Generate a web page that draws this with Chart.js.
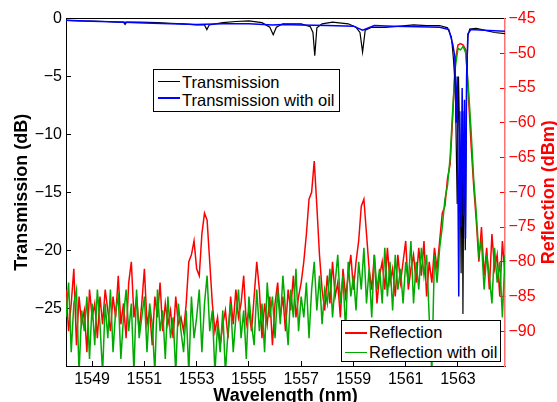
<!DOCTYPE html>
<html>
<head>
<meta charset="utf-8">
<script src="https://cdn.jsdelivr.net/npm/chart.js@4"></script>
<style>
  body { margin: 0; background: #fff; }
  #wrap { position: relative; width: 557px; height: 402px; overflow: hidden; }
  .legend { position: absolute; box-sizing: border-box; border: 1px solid #000; background: #fff;
            font: 16.5px "Liberation Sans", Arial, sans-serif; color: #000; }
  .legend .ln { position: absolute; width: 22px; }
  .legend .tx { position: absolute; line-height: 18px; white-space: nowrap; }
</style>
</head>
<body>
<div id="wrap">
  <canvas id="chart" width="557" height="402"></canvas>
  <div class="legend" style="left:153px;top:69px;width:187px;height:43px">
    <div class="ln" style="left:4px;top:10.5px;height:1px;background:#000"></div>
    <div class="tx" style="left:28px;top:2.5px">Transmission</div>
    <div class="ln" style="left:4px;top:27px;height:2px;background:#0000ff"></div>
    <div class="tx" style="left:28px;top:21px">Transmission with oil</div>
  </div>
  <div class="legend" style="left:341px;top:320px;width:160px;height:42px">
    <div class="ln" style="left:3px;top:11px;height:1.5px;background:#ff0000"></div>
    <div class="tx" style="left:27px;top:2.2px">Reflection</div>
    <div class="ln" style="left:3px;top:30.5px;height:1.5px;background:#00aa00"></div>
    <div class="tx" style="left:27px;top:22.2px">Reflection with oil</div>
  </div>
</div>
<script>
// tick labels
const wavelengthTicks = [1549, 1551, 1553, 1555, 1557, 1559, 1561, 1563];
const transTicks = [-25, -20, -15, -10, -5, 0];
const reflTicks = [-90, -85, -80, -75, -70, -65, -60, -55, -50, -45];

// transmission (dB)
const transWl = [1548.0, 1548.5, 1549.0, 1549.5, 1550.0, 1550.2, 1550.26, 1550.32, 1550.8, 1551.5,
  1552.0, 1552.5, 1553.0, 1553.3, 1553.39, 1553.48, 1554.0, 1554.5, 1555.0, 1555.5,
  1555.8, 1555.93, 1556.05, 1556.3, 1557.0, 1557.35, 1557.45, 1557.52, 1557.6, 1557.8,
  1558.2, 1558.8, 1559.1, 1559.25, 1559.35, 1559.45, 1559.7, 1560.2, 1560.8, 1561.3,
  1561.8, 1562.3, 1562.6, 1562.75, 1562.82, 1562.9, 1562.97, 1563.02, 1563.08, 1563.12,
  1563.16, 1563.19, 1563.23, 1563.28, 1563.33, 1563.38, 1563.45, 1563.7, 1564.0, 1564.4, 1564.8];
const transDb = [-0.15, -0.2, -0.22, -0.25, -0.3, -0.3, -0.5, -0.3, -0.3, -0.35,
  -0.4, -0.45, -0.55, -0.55, -0.95, -0.55, -0.35, -0.25, -0.2, -0.35,
  -0.75, -1.4, -0.75, -0.45, -0.45, -0.7, -1.2, -3.2, -0.8, -0.45,
  -0.3, -0.45, -0.75, -1.2, -2.9, -1.0, -0.75, -0.75, -0.65, -0.55,
  -0.6, -0.6, -0.8, -1.6, -3.3, -6, -16, -5, -12, -22,
  -8, -25.5, -10, -20, -6, -1.5, -0.9, -0.85, -1.0, -1.2, -1.3];

const oilWl = [1548.0, 1549.0, 1550.0, 1551.0, 1552.0, 1553.0, 1554.0, 1555.0, 1555.9, 1556.3,
  1557.0, 1558.0, 1559.0, 1559.35, 1559.8, 1560.5, 1561.5, 1562.3, 1562.65, 1562.8,
  1562.88, 1562.93, 1562.97, 1563.03, 1563.07, 1563.12, 1563.16, 1563.21, 1563.25, 1563.29,
  1563.33, 1563.38, 1563.5, 1564.0, 1564.8];
const oilDb = [-0.15, -0.22, -0.3, -0.38, -0.45, -0.5, -0.45, -0.45, -0.55, -0.5,
  -0.55, -0.6, -0.65, -1.0, -0.6, -0.65, -0.7, -0.75, -0.95, -2.2,
  -3.3, -9, -5, -24, -8, -18, -6, -17, -7, -19,
  -5, -1.3, -0.95, -1.0, -1.1];

// reflection (dBm), one reading every 0.1 nm
const reflWl = [
  1548.0, 1548.1, 1548.2, 1548.3, 1548.4, 1548.5, 1548.6, 1548.7, 1548.8, 1548.9,
  1549.0, 1549.1, 1549.2, 1549.3, 1549.4, 1549.5, 1549.6, 1549.7, 1549.8, 1549.9,
  1550.0, 1550.1, 1550.2, 1550.3, 1550.4, 1550.5, 1550.6, 1550.7, 1550.8, 1550.9,
  1551.0, 1551.1, 1551.2, 1551.3, 1551.4, 1551.5, 1551.6, 1551.7, 1551.8, 1551.9,
  1552.0, 1552.1, 1552.2, 1552.3, 1552.4, 1552.5, 1552.6, 1552.7, 1552.8, 1552.9,
  1553.0, 1553.1, 1553.2, 1553.3, 1553.4, 1553.5, 1553.6, 1553.7, 1553.8, 1553.9,
  1554.0, 1554.1, 1554.2, 1554.3, 1554.4, 1554.5, 1554.6, 1554.7, 1554.8, 1554.9,
  1555.0, 1555.1, 1555.2, 1555.3, 1555.4, 1555.5, 1555.6, 1555.7, 1555.8, 1555.9,
  1556.0, 1556.1, 1556.2, 1556.3, 1556.4, 1556.5, 1556.6, 1556.7, 1556.8, 1556.9,
  1557.0, 1557.1, 1557.2, 1557.3, 1557.4, 1557.5, 1557.6, 1557.7, 1557.8, 1557.9,
  1558.0, 1558.1, 1558.2, 1558.3, 1558.4, 1558.5, 1558.6, 1558.7, 1558.8, 1558.9,
  1559.0, 1559.1, 1559.2, 1559.3, 1559.4, 1559.5, 1559.6, 1559.7, 1559.8, 1559.9,
  1560.0, 1560.1, 1560.2, 1560.3, 1560.4, 1560.5, 1560.6, 1560.7, 1560.8, 1560.9,
  1561.0, 1561.1, 1561.2, 1561.3, 1561.4, 1561.5, 1561.6, 1561.7, 1561.8, 1561.9,
  1562.0, 1562.1, 1562.2, 1562.3, 1562.4, 1562.5, 1562.6, 1562.7, 1562.8, 1562.9,
  1563.0, 1563.1, 1563.2, 1563.3, 1563.4, 1563.5, 1563.6, 1563.7, 1563.8, 1563.9,
  1564.0, 1564.1, 1564.2, 1564.3, 1564.4, 1564.5, 1564.6, 1564.7, 1564.8];
const reflDbm = [
  -84, -90, -86, -81, -92, -85, -89, -87, -93, -84,
  -88, -86, -91, -85, -89, -84, -87, -90, -85, -88,
  -82, -89, -86, -91, -83, -80, -88, -85, -90, -86,
  -81, -89, -87, -92, -85, -88, -83, -90, -86, -89,
  -87, -91, -85, -89, -88, -90, -86, -80, -79, -77,
  -81, -82, -76, -73, -74, -80, -86, -90, -88, -92,
  -89, -87, -91, -85, -89, -84, -88, -86, -82, -89,
  -87, -90, -85, -80, -84, -91, -86, -89, -85, -92,
  -86, -83, -88, -85, -90, -84, -87, -82, -88, -85,
  -83, -80, -76, -71, -70, -65.5, -72, -79, -84, -87,
  -82, -86, -80, -85, -83, -88, -81, -85, -82, -79,
  -84, -80, -77, -72, -71, -76, -81, -84, -79, -86,
  -82, -80, -84, -78, -83, -81, -85, -79, -83, -80,
  -77, -84, -81, -79, -83, -78, -82, -77, -85, -80,
  -83, -78, -81, -77, -73, -72, -68, -66, -59, -51,
  -48.8, -48.6, -48.8, -49.5, -56, -63, -69, -74, -80, -75,
  -82, -78, -84, -76, -81, -79, -85, -77, -82];
const oilReflDbm = [
  -88, -83, -93, -86, -84, -96, -87, -90, -85, -94,
  -86, -92, -84, -89, -96, -86, -91, -84, -93, -87,
  -85, -94, -88, -84, -90, -86, -96, -84, -91, -88,
  -85, -93, -86, -89, -96, -84, -90, -87, -94, -85,
  -91, -88, -96, -86, -90, -93, -87, -96, -85, -91,
  -88, -84, -93, -86, -82, -90, -87, -96, -89, -93,
  -87, -96, -90, -86, -93, -88, -84, -91, -87, -94,
  -85, -89, -92, -84, -90, -86, -93, -83, -88, -85,
  -91, -84, -89, -82, -87, -92, -84, -88, -81, -90,
  -85, -88, -83, -91, -84, -80, -87, -82, -89, -84,
  -86, -81, -88, -83, -79, -86, -82, -90, -80, -85,
  -82, -87, -80, -84, -78, -86, -81, -88, -79, -84,
  -81, -86, -78, -85, -80, -87, -79, -84, -81, -86,
  -80, -83, -77, -86, -80, -84, -78, -82, -79, -88,
  -96, -79, -83, -78, -75, -71, -69, -65, -58, -52,
  -49.3, -49.5, -49, -50, -55, -61, -68, -73, -79, -77,
  -84, -79, -82, -86, -78, -83, -80, -88, -79];

const FONT = '"Liberation Sans", Arial, sans-serif';
Chart.defaults.font.family = FONT;

function pairs(xs, ys) {
  return xs.map((x, i) => ({ x: x, y: ys[i] }));
}

function minusLabel(v) {
  return v < 0 ? '\u2212' + Math.abs(v) : String(v);
}

const rightTitle = {
  id: 'rightTitle',
  afterDraw(chart) {
    const ctx = chart.ctx;
    const area = chart.chartArea;
    ctx.save();
    ctx.translate(chart.scales.y2.right - 8, (area.top + area.bottom) / 2);
    ctx.rotate(-Math.PI / 2);
    ctx.font = 'bold 18px ' + FONT;
    ctx.fillStyle = '#ff0000';
    ctx.textAlign = 'center';
    ctx.textBaseline = 'middle';
    ctx.fillText('Reflection (dBm)', 0, 0);
    ctx.restore();
  }
};

new Chart(document.getElementById('chart'), {
  type: 'line',
  data: {
    datasets: [
      { label: 'Transmission with oil', data: pairs(oilWl, oilDb), yAxisID: 'y', order: 0,
        borderColor: '#0000ff', borderWidth: 1.5 },
      { label: 'Transmission', data: pairs(transWl, transDb), yAxisID: 'y', order: 1,
        borderColor: '#000000', borderWidth: 1.2 },
      { label: 'Reflection with oil', data: pairs(reflWl, oilReflDbm), yAxisID: 'y2', order: 2,
        borderColor: '#00aa00', borderWidth: 1.5 },
      { label: 'Reflection', data: pairs(reflWl, reflDbm), yAxisID: 'y2', order: 3,
        borderColor: '#ff0000', borderWidth: 1.5 }
    ]
  },
  options: {
    responsive: false,
    animation: false,
    devicePixelRatio: 1,
    layout: { padding: 0 },
    elements: { point: { radius: 0 }, line: { tension: 0 } },
    plugins: { legend: { display: false }, tooltip: { enabled: false } },
    scales: {
      x: {
        type: 'linear', position: 'bottom', min: 1548, max: 1564.8,
        afterBuildTicks: s => { s.ticks = wavelengthTicks.map(v => ({ value: v })); },
        afterFit: s => { s.height = 36; },
        ticks: { color: '#000', font: { size: 16 }, padding: 9, maxRotation: 0, autoSkip: false,
                 callback: v => String(v) },
        grid: { drawOnChartArea: false, tickLength: -5, color: '#000' },
        border: { color: '#000', width: 1 },
        title: { display: true, text: 'Wavelength (nm)', color: '#000',
                 font: { size: 18, weight: 'bold', lineHeight: 1 }, padding: { top: 0, bottom: -3 } }
      },
      xTop: {
        type: 'linear', position: 'top', min: 1548, max: 1564.8,
        afterFit: s => { s.height = 15; },
        ticks: { display: false },
        grid: { display: false },
        border: { color: '#000', width: 1 }
      },
      y: {
        type: 'linear', position: 'left', min: -30, max: 0,
        afterBuildTicks: s => { s.ticks = transTicks.map(v => ({ value: v })); },
        afterFit: s => { s.width = 66; },
        ticks: { color: '#000', font: { size: 16 }, padding: 9, callback: minusLabel },
        grid: { drawOnChartArea: false, tickLength: -5, color: '#000' },
        border: { color: '#000', width: 1 },
        title: { display: true, text: 'Transmission (dB)', color: '#000',
                 font: { size: 18, weight: 'bold', lineHeight: 1 }, padding: { top: 13.5, bottom: 0 } }
      },
      y2: {
        type: 'linear', position: 'right', min: -95, max: -45,
        afterBuildTicks: s => { s.ticks = reflTicks.map(v => ({ value: v })); },
        afterFit: s => { s.width = 52; },
        ticks: { color: '#ff0000', font: { size: 16 }, padding: 8.5, callback: minusLabel },
        grid: { drawOnChartArea: false, tickLength: -5, color: '#ff0000' },
        border: { color: '#ff7070', width: 1.5 }
      }
    }
  },
  plugins: [rightTitle]
});
</script>
</body>
</html>
